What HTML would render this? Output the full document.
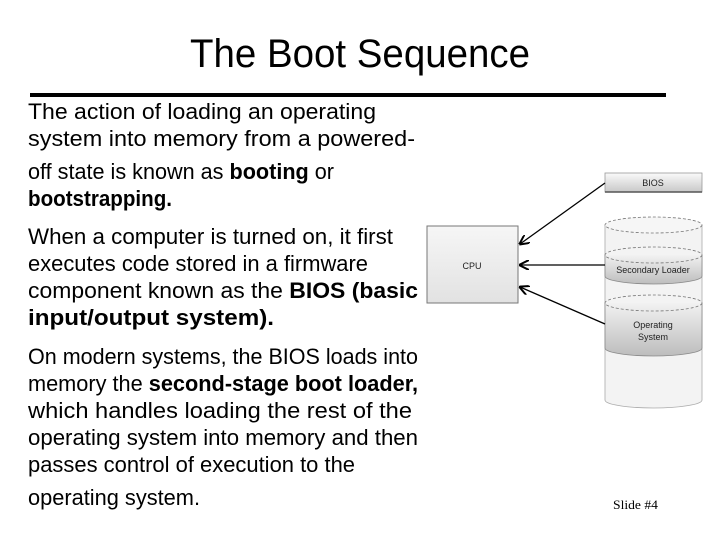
<!DOCTYPE html>
<html><head><meta charset="utf-8"><style>
html,body{margin:0;padding:0;background:#fff;}
svg{display:block;}
.b{font-family:"Liberation Sans",sans-serif;font-size:22px;fill:#000;}
.bd{font-weight:bold;}
.s{font-family:"Liberation Sans",sans-serif;font-size:9px;fill:#222;}
</style></head><body>
<svg width="720" height="540" viewBox="0 0 720 540" xmlns="http://www.w3.org/2000/svg">
<defs>
<linearGradient id="g1" x1="0" y1="0" x2="0" y2="1"><stop offset="0" stop-color="#fafafa"/><stop offset="1" stop-color="#c8c8c8"/></linearGradient>
<linearGradient id="g2" x1="0" y1="0" x2="0" y2="1"><stop offset="0" stop-color="#f2f2f2"/><stop offset="1" stop-color="#bdbdbd"/></linearGradient>
<linearGradient id="g3" x1="0" y1="0" x2="0" y2="1"><stop offset="0" stop-color="#f6f6f6"/><stop offset="1" stop-color="#e2e2e2"/></linearGradient>
<marker id="ah" markerWidth="10" markerHeight="10" refX="9" refY="5" orient="auto" markerUnits="userSpaceOnUse"><path d="M0,0 L10,5 L0,10" fill="none" stroke="#000" stroke-width="2"/></marker>
</defs>
<text x="360" y="67" text-anchor="middle" font-family="Liberation Sans,sans-serif" font-size="40" textLength="340" lengthAdjust="spacingAndGlyphs">The Boot Sequence</text>
<rect x="30" y="93" width="636" height="4" fill="#000"/>
<g class="b">
<text x="28" y="119" textLength="348" lengthAdjust="spacingAndGlyphs">The action of loading an operating</text>
<text x="28" y="146" textLength="387" lengthAdjust="spacingAndGlyphs">system into memory from a powered-</text>
<text x="28" y="179" textLength="306" lengthAdjust="spacingAndGlyphs">off state is known as <tspan class="bd">booting</tspan> or</text>
<text x="28" y="206" class="bd" textLength="144" lengthAdjust="spacingAndGlyphs">bootstrapping.</text>
<text x="28" y="244" textLength="365" lengthAdjust="spacingAndGlyphs">When a computer is turned on, it first</text>
<text x="28" y="271" textLength="340" lengthAdjust="spacingAndGlyphs">executes code stored in a firmware</text>
<text x="28" y="298" textLength="390" lengthAdjust="spacingAndGlyphs">component known as the <tspan class="bd">BIOS (basic</tspan></text>
<text x="28" y="325" class="bd" textLength="246" lengthAdjust="spacingAndGlyphs">input/output system).</text>
<text x="28" y="364" textLength="390" lengthAdjust="spacingAndGlyphs">On modern systems, the BIOS loads into</text>
<text x="28" y="391" textLength="390" lengthAdjust="spacingAndGlyphs">memory the <tspan class="bd">second-stage boot loader,</tspan></text>
<text x="28" y="418" textLength="384" lengthAdjust="spacingAndGlyphs">which handles loading the rest of the</text>
<text x="28" y="445" textLength="390" lengthAdjust="spacingAndGlyphs">operating system into memory and then</text>
<text x="28" y="472" textLength="327" lengthAdjust="spacingAndGlyphs">passes control of execution to the</text>
<text x="28" y="505" textLength="172" lengthAdjust="spacingAndGlyphs">operating system.</text>
</g>
<rect x="427" y="226" width="91" height="77" fill="url(#g3)" stroke="#777" stroke-width="1"/>
<text x="472" y="269" class="s" text-anchor="middle">CPU</text>
<rect x="605" y="173" width="97" height="19" fill="url(#g1)" stroke="#999" stroke-width="0.8"/>
<line x1="605" y1="192" x2="702" y2="192" stroke="#555" stroke-width="1.5"/>
<text x="653" y="186" class="s" text-anchor="middle">BIOS</text>
<path d="M605,225 L605,400 A48.5,8 0 0 0 702,400 L702,225" fill="#f3f3f3" stroke="#aaa" stroke-width="0.8"/>
<path d="M605,255 L605,276 A48.5,8 0 0 0 702,276 L702,255" fill="url(#g2)" stroke="#888" stroke-width="0.8"/>
<ellipse cx="653.5" cy="255" rx="48.5" ry="8" fill="none" stroke="#777" stroke-width="0.8" stroke-dasharray="3,2"/>
<path d="M605,303 L605,348 A48.5,8 0 0 0 702,348 L702,303" fill="url(#g2)" stroke="#888" stroke-width="0.8"/>
<ellipse cx="653.5" cy="303" rx="48.5" ry="8" fill="none" stroke="#777" stroke-width="0.8" stroke-dasharray="3,2"/>
<ellipse cx="653.5" cy="225" rx="48.5" ry="8" fill="#f6f6f6" stroke="#777" stroke-width="0.8" stroke-dasharray="3,2"/>
<text x="653" y="273" class="s" text-anchor="middle">Secondary Loader</text>
<text x="653" y="328" class="s" text-anchor="middle">Operating</text>
<text x="653" y="340" class="s" text-anchor="middle">System</text>
<line x1="605" y1="183" x2="520" y2="244" stroke="#000" stroke-width="1.3" marker-end="url(#ah)"/>
<line x1="605" y1="265" x2="520" y2="265" stroke="#000" stroke-width="1.3" marker-end="url(#ah)"/>
<line x1="605" y1="324" x2="520" y2="287" stroke="#000" stroke-width="1.3" marker-end="url(#ah)"/>
<text x="613" y="509" font-family="Liberation Serif,serif" font-size="13" textLength="45" lengthAdjust="spacingAndGlyphs">Slide #4</text>
</svg>
</body></html>
